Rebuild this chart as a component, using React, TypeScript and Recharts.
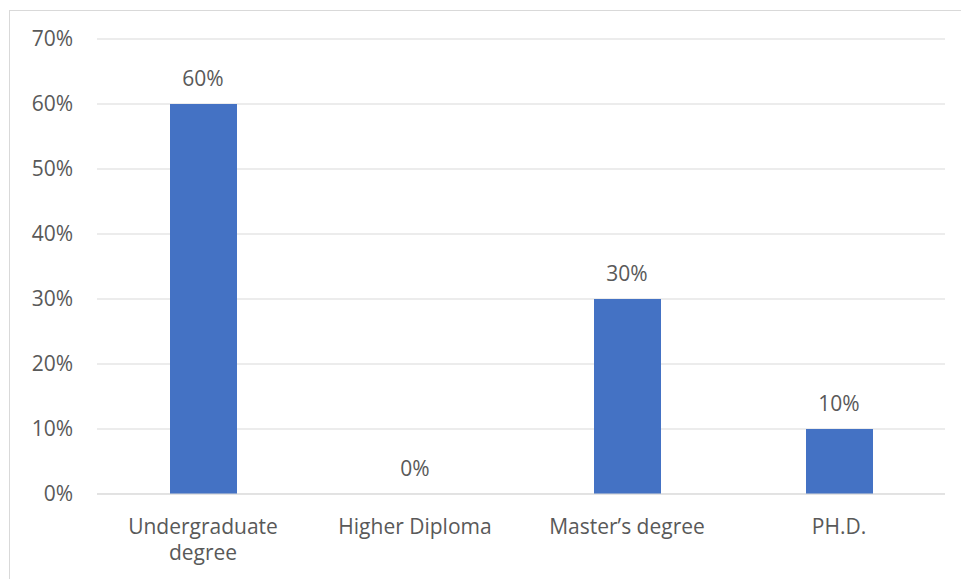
import React from "react";
import {
  ComposedChart,
  Bar,
  Scatter,
  XAxis,
  YAxis,
  ZAxis,
  CartesianGrid,
  LabelList,
  Text,
} from "recharts";

const categories = ["Undergraduate degree", "Higher Diploma", "Master’s degree", "PH.D."];
const shares = [60, 0, 30, 10];
const yTicks = [0, 10, 20, 30, 40, 50, 60, 70];

const data = categories.map((name, i) => ({ name, value: shares[i] }));

const FONT = "'Open Sans', 'Noto Sans', sans-serif";
const GREY = "#595959";
const FS = 21;

const WrapTick = (props: any) => {
  const { x, y, payload } = props;
  return (
    <Text
      x={x}
      y={y}
      width={170}
      textAnchor="middle"
      verticalAnchor="start"
      lineHeight={26}
      fill={GREY}
      style={{ fontSize: FS, fontFamily: FONT }}
    >
      {payload.value}
    </Text>
  );
};

function App() {
  return (
    <div
      style={{
        position: "absolute",
        left: 0,
        top: 0,
        width: 961,
        height: 579,
        background: "#fff",
        overflow: "hidden",
      }}
    >
      <div
        style={{
          position: "absolute",
          left: 9,
          top: 10,
          width: 960,
          height: 579,
          borderLeft: "1px solid #d9d9d9",
          borderTop: "1px solid #d9d9d9",
        }}
      />
      <div style={{ position: "absolute", left: 0, top: 0 }}>
        <ComposedChart
          width={961}
          height={579}
          data={data}
          margin={{ top: 39, right: 16, left: 0, bottom: 0 }}
        >
          <CartesianGrid vertical={false} stroke="#d9d9d9" strokeWidth={1} />
          <XAxis
            dataKey="name"
            height={85}
            axisLine={{ stroke: "#d9d9d9" }}
            tickLine={false}
            tickSize={0}
            tickMargin={25}
            interval={0}
            tick={<WrapTick />}
          />
          <YAxis
            width={97}
            domain={[0, 70]}
            ticks={yTicks}
            axisLine={false}
            tickLine={false}
            tickSize={0}
            tickMargin={24}
            tickFormatter={(v: number) => `${v}%`}
            tick={{ fill: GREY, fontSize: FS, fontFamily: FONT }}
          />
          <ZAxis range={[0, 0]} />
          <Bar dataKey="value" fill="#4472c4" barSize={67} isAnimationActive={false} />
          <Scatter dataKey="value" shape={() => <g />} isAnimationActive={false}>
            <LabelList
              dataKey="value"
              position="top"
              offset={18}
              formatter={(v: any) => `${v}%`}
              style={{ fill: GREY, fontSize: FS, fontFamily: FONT }}
            />
          </Scatter>
        </ComposedChart>
      </div>
    </div>
  );
}

export default App;
